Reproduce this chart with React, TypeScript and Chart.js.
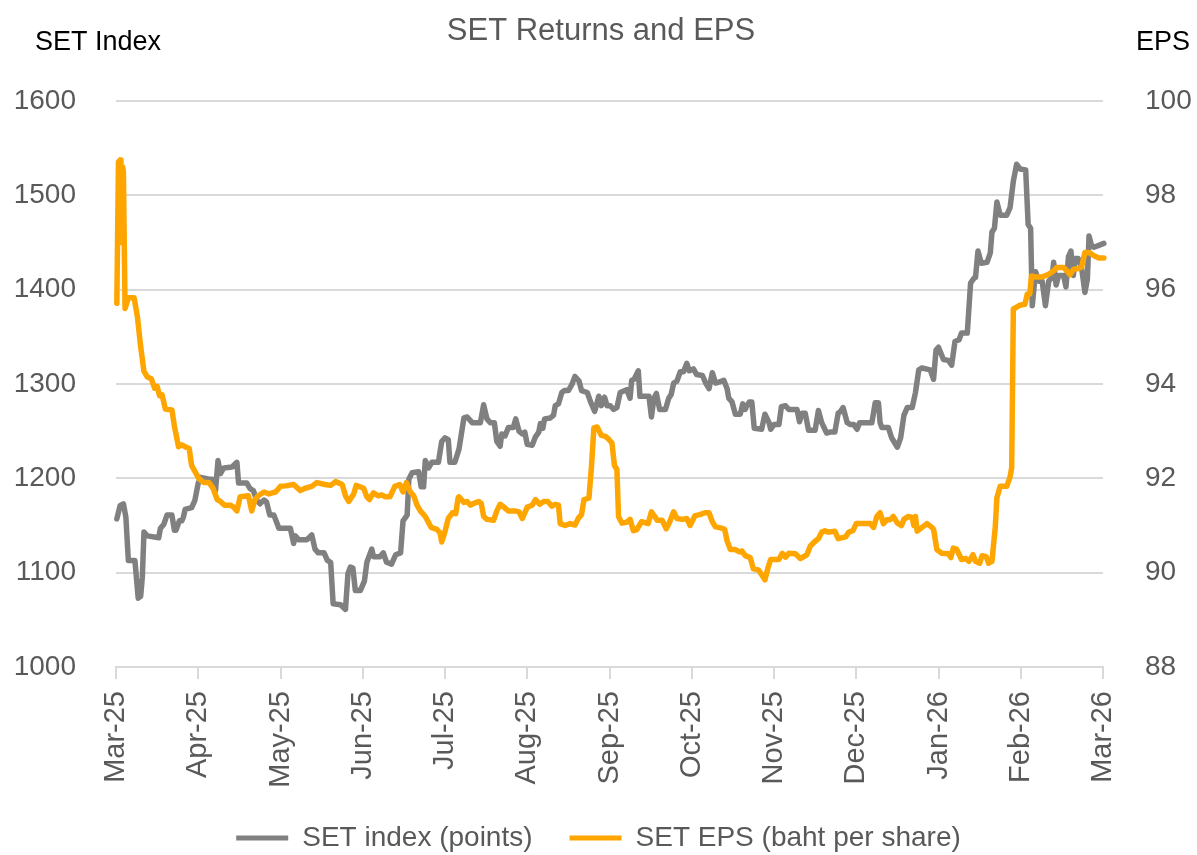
import React, { useEffect, useRef } from 'react';
import { Chart, registerables } from 'chart.js';

Chart.register(...registerables);

const CHART_TITLE = 'SET Returns and EPS';
const LEFT_AXIS_TITLE = 'SET Index';
const RIGHT_AXIS_TITLE = 'EPS';
const SERIES_NAMES = ['SET index (points)', 'SET EPS (baht per share)'];

const MONTH_LABELS = [
  'Mar-25', 'Apr-25', 'May-25', 'Jun-25', 'Jul-25', 'Aug-25', 'Sep-25',
  'Oct-25', 'Nov-25', 'Dec-25', 'Jan-26', 'Feb-26', 'Mar-26',
];

const INDEX_MIN = 1000;
const INDEX_MAX = 1600;
const INDEX_STEP = 100;
const EPS_MIN = 88;
const EPS_MAX = 100;
const EPS_STEP = 2;

// [months since Mar-25, SET index points]
const SET_INDEX: [number, number][] = [
  [0.01, 1157], [0.05, 1171], [0.09, 1173], [0.12, 1159], [0.15, 1113], [0.23, 1113],
  [0.27, 1073], [0.30, 1075], [0.32, 1095], [0.34, 1143], [0.38, 1139], [0.52, 1137],
  [0.54, 1147], [0.58, 1151], [0.62, 1161], [0.68, 1161], [0.71, 1145], [0.73, 1145],
  [0.77, 1155], [0.80, 1155], [0.82, 1159], [0.84, 1167], [0.92, 1169], [0.96, 1177],
  [1.00, 1195], [1.03, 1201], [1.13, 1199], [1.17, 1199], [1.21, 1187], [1.24, 1219],
  [1.27, 1205], [1.31, 1211], [1.41, 1212], [1.47, 1217], [1.49, 1195], [1.59, 1195],
  [1.63, 1189], [1.67, 1187], [1.71, 1177], [1.75, 1173], [1.80, 1177], [1.83, 1175],
  [1.87, 1161], [1.92, 1161], [1.98, 1147], [2.12, 1147], [2.16, 1131], [2.18, 1139],
  [2.22, 1135], [2.32, 1135], [2.38, 1140], [2.42, 1125], [2.46, 1121], [2.53, 1121],
  [2.57, 1113], [2.61, 1111], [2.64, 1067], [2.73, 1066], [2.79, 1061], [2.82, 1099],
  [2.85, 1106], [2.88, 1105], [2.91, 1081], [2.97, 1081], [3.02, 1091], [3.05, 1111],
  [3.11, 1125], [3.13, 1117], [3.21, 1117], [3.25, 1121], [3.29, 1111], [3.35, 1109],
  [3.40, 1119], [3.46, 1121], [3.49, 1155], [3.54, 1161], [3.56, 1199], [3.60, 1206],
  [3.68, 1207], [3.71, 1191], [3.74, 1191], [3.76, 1219], [3.80, 1211], [3.84, 1217],
  [3.92, 1217], [3.96, 1239], [4.00, 1243], [4.04, 1241], [4.06, 1217], [4.12, 1217],
  [4.17, 1231], [4.23, 1264], [4.27, 1265], [4.33, 1259], [4.43, 1259], [4.47, 1278],
  [4.51, 1263], [4.55, 1259], [4.60, 1259], [4.63, 1239], [4.67, 1234], [4.69, 1247],
  [4.73, 1245], [4.77, 1254], [4.83, 1254], [4.86, 1263], [4.90, 1250], [4.94, 1247],
  [4.97, 1249], [5.00, 1236], [5.06, 1235], [5.10, 1244], [5.14, 1249], [5.16, 1258],
  [5.19, 1253], [5.21, 1263], [5.28, 1264], [5.32, 1267], [5.34, 1277], [5.38, 1279],
  [5.42, 1291], [5.45, 1293], [5.50, 1293], [5.54, 1299], [5.58, 1308], [5.63, 1303],
  [5.66, 1293], [5.73, 1291], [5.77, 1281], [5.82, 1271], [5.87, 1287], [5.90, 1277],
  [5.94, 1286], [5.97, 1277], [6.01, 1277], [6.05, 1273], [6.09, 1275], [6.13, 1291],
  [6.21, 1294], [6.25, 1285], [6.27, 1304], [6.30, 1305], [6.35, 1314], [6.37, 1287],
  [6.48, 1287], [6.51, 1265], [6.54, 1285], [6.57, 1290], [6.61, 1273], [6.68, 1273],
  [6.72, 1285], [6.75, 1289], [6.78, 1301], [6.82, 1303], [6.86, 1313], [6.90, 1313],
  [6.94, 1322], [6.97, 1314], [7.02, 1316], [7.06, 1310], [7.13, 1309], [7.17, 1301],
  [7.21, 1295], [7.25, 1312], [7.29, 1301], [7.33, 1302], [7.39, 1304], [7.43, 1295],
  [7.45, 1285], [7.49, 1281], [7.53, 1268], [7.59, 1268], [7.62, 1279], [7.65, 1273],
  [7.67, 1277], [7.70, 1281], [7.73, 1281], [7.76, 1253], [7.85, 1252], [7.89, 1268],
  [7.94, 1259], [7.96, 1252], [8.00, 1257], [8.06, 1257], [8.09, 1276], [8.14, 1277],
  [8.18, 1273], [8.28, 1273], [8.31, 1260], [8.34, 1269], [8.38, 1269], [8.42, 1251],
  [8.50, 1251], [8.54, 1272], [8.58, 1259], [8.64, 1248], [8.68, 1249], [8.74, 1249],
  [8.78, 1269], [8.81, 1271], [8.84, 1275], [8.89, 1259], [8.93, 1257], [8.97, 1257],
  [9.01, 1252], [9.04, 1259], [9.19, 1259], [9.23, 1280], [9.27, 1280], [9.29, 1259],
  [9.31, 1254], [9.39, 1254], [9.43, 1243], [9.50, 1233], [9.54, 1243], [9.58, 1267],
  [9.62, 1275], [9.68, 1275], [9.72, 1291], [9.76, 1315], [9.80, 1317], [9.90, 1315],
  [9.94, 1305], [9.97, 1336], [10.00, 1339], [10.06, 1326], [10.12, 1325], [10.16, 1320],
  [10.20, 1345], [10.25, 1347], [10.28, 1354], [10.35, 1354], [10.39, 1407], [10.43, 1412],
  [10.45, 1413], [10.48, 1441], [10.52, 1428], [10.59, 1429], [10.63, 1439], [10.65, 1461],
  [10.68, 1465], [10.71, 1493], [10.75, 1479], [10.83, 1479], [10.87, 1487], [10.91, 1515],
  [10.95, 1533], [10.99, 1528], [11.06, 1527], [11.09, 1469], [11.12, 1465], [11.14, 1383],
  [11.18, 1419], [11.22, 1409], [11.26, 1409], [11.30, 1383], [11.34, 1409], [11.38, 1413],
  [11.40, 1429], [11.43, 1405], [11.46, 1415], [11.52, 1415], [11.55, 1403], [11.58, 1435],
  [11.61, 1441], [11.64, 1415], [11.66, 1433], [11.70, 1433], [11.74, 1423], [11.78, 1397],
  [11.81, 1411], [11.83, 1457], [11.86, 1447], [11.89, 1445], [11.95, 1447], [12.01, 1449],
  [12.05, 1447],
];

// [months since Mar-25, SET EPS baht per share]
const SET_EPS: [number, number][] = [
  [0.01, 95.71], [0.03, 98.71], [0.05, 98.75], [0.06, 97.0], [0.08, 98.6], [0.09, 98.5],
  [0.11, 95.6], [0.15, 95.83], [0.22, 95.83], [0.26, 95.43], [0.30, 94.79], [0.34, 94.27],
  [0.38, 94.15], [0.43, 94.11], [0.47, 93.91], [0.50, 93.95], [0.53, 93.75], [0.56, 93.77],
  [0.60, 93.47], [0.68, 93.45], [0.71, 93.11], [0.76, 92.67], [0.80, 92.71], [0.84, 92.67],
  [0.89, 92.63], [0.92, 92.27], [1.01, 91.99], [1.07, 91.91], [1.13, 91.91], [1.18, 91.79],
  [1.23, 91.55], [1.27, 91.51], [1.32, 91.43], [1.39, 91.43], [1.43, 91.39], [1.47, 91.31],
  [1.51, 91.61], [1.61, 91.63], [1.65, 91.31], [1.69, 91.55], [1.73, 91.63], [1.80, 91.71],
  [1.86, 91.67], [1.90, 91.69], [1.94, 91.71], [2.00, 91.83], [2.06, 91.84], [2.16, 91.87],
  [2.24, 91.74], [2.30, 91.79], [2.38, 91.83], [2.44, 91.91], [2.54, 91.87], [2.61, 91.85],
  [2.67, 91.93], [2.75, 91.87], [2.79, 91.63], [2.83, 91.51], [2.89, 91.67], [2.92, 91.85],
  [3.01, 91.79], [3.05, 91.61], [3.08, 91.55], [3.13, 91.69], [3.19, 91.63], [3.23, 91.65],
  [3.27, 91.61], [3.33, 91.61], [3.39, 91.83], [3.45, 91.87], [3.49, 91.71], [3.53, 91.91],
  [3.58, 91.71], [3.62, 91.63], [3.66, 91.43], [3.70, 91.31], [3.76, 91.19], [3.81, 91.03],
  [3.83, 90.96], [3.90, 90.92], [3.94, 90.84], [3.96, 90.65], [4.00, 90.87], [4.04, 91.15],
  [4.09, 91.27], [4.13, 91.25], [4.16, 91.59], [4.17, 91.61], [4.23, 91.49], [4.27, 91.51],
  [4.31, 91.43], [4.35, 91.47], [4.41, 91.51], [4.44, 91.47], [4.47, 91.19], [4.51, 91.13],
  [4.59, 91.11], [4.63, 91.31], [4.67, 91.45], [4.73, 91.37], [4.77, 91.31], [4.85, 91.31],
  [4.90, 91.29], [4.94, 91.15], [5.00, 91.39], [5.06, 91.43], [5.10, 91.55], [5.15, 91.45],
  [5.20, 91.51], [5.25, 91.51], [5.30, 91.41], [5.34, 91.45], [5.38, 91.43], [5.40, 91.04],
  [5.46, 91.0], [5.52, 91.04], [5.58, 91.01], [5.62, 91.15], [5.66, 91.23], [5.69, 91.55],
  [5.75, 91.58], [5.78, 92.23], [5.81, 93.07], [5.85, 93.09], [5.90, 92.91], [5.95, 92.89],
  [5.99, 92.83], [6.03, 92.75], [6.06, 92.27], [6.09, 92.19], [6.11, 91.19], [6.15, 91.05],
  [6.21, 91.07], [6.25, 91.13], [6.29, 90.89], [6.33, 90.91], [6.39, 91.08], [6.47, 91.04],
  [6.51, 91.29], [6.55, 91.19], [6.58, 91.11], [6.64, 91.11], [6.69, 90.93], [6.73, 91.07],
  [6.78, 91.29], [6.82, 91.15], [6.89, 91.13], [6.94, 91.15], [6.98, 91.0], [7.04, 91.21],
  [7.10, 91.23], [7.16, 91.27], [7.21, 91.27], [7.25, 91.08], [7.29, 90.97], [7.35, 90.95],
  [7.40, 90.92], [7.43, 90.67], [7.47, 90.49], [7.53, 90.49], [7.58, 90.44], [7.61, 90.46],
  [7.65, 90.36], [7.71, 90.32], [7.75, 90.08], [7.81, 90.06], [7.89, 89.85], [7.93, 90.12],
  [7.96, 90.28], [8.02, 90.28], [8.06, 90.28], [8.10, 90.41], [8.14, 90.33], [8.18, 90.41],
  [8.26, 90.40], [8.32, 90.30], [8.40, 90.38], [8.44, 90.56], [8.49, 90.65], [8.54, 90.72],
  [8.58, 90.86], [8.62, 90.89], [8.66, 90.86], [8.74, 90.88], [8.78, 90.72], [8.87, 90.76],
  [8.91, 90.86], [8.96, 90.89], [9.00, 91.04], [9.07, 91.04], [9.17, 91.04], [9.21, 90.96],
  [9.25, 91.19], [9.29, 91.27], [9.33, 91.04], [9.37, 91.12], [9.41, 91.12], [9.45, 91.19],
  [9.50, 91.05], [9.55, 91.0], [9.58, 91.13], [9.63, 91.19], [9.68, 91.17], [9.70, 91.0],
  [9.72, 91.19], [9.74, 90.88], [9.80, 90.96], [9.86, 91.04], [9.92, 90.96], [9.94, 90.92],
  [9.98, 90.49], [10.04, 90.41], [10.12, 90.40], [10.15, 90.32], [10.18, 90.52], [10.22, 90.50],
  [10.28, 90.28], [10.33, 90.30], [10.37, 90.24], [10.42, 90.38], [10.45, 90.24], [10.50, 90.20],
  [10.53, 90.36], [10.58, 90.34], [10.61, 90.20], [10.65, 90.24], [10.69, 90.96], [10.71, 91.59],
  [10.75, 91.83], [10.83, 91.83], [10.87, 92.03], [10.89, 92.23], [10.91, 95.59], [10.95, 95.63],
  [10.99, 95.67], [11.05, 95.69], [11.08, 95.91], [11.11, 95.91], [11.13, 96.29], [11.17, 96.27],
  [11.26, 96.27], [11.32, 96.31], [11.36, 96.35], [11.40, 96.40], [11.44, 96.47], [11.52, 96.47],
  [11.56, 96.40], [11.60, 96.32], [11.64, 96.43], [11.70, 96.45], [11.74, 96.48], [11.78, 96.79],
  [11.83, 96.79], [11.89, 96.72], [11.95, 96.67], [12.01, 96.67], [12.05, 96.79],
];

const FONT_FAMILY = '"Liberation Sans", Arial, Helvetica, sans-serif';
const TEXT_GRAY = '#595959';
const GRID_GRAY = '#d9d9d9';
const INDEX_COLOR = '#808080';
const EPS_COLOR = '#FFA500';

const headerTextPlugin = {
  id: 'headerText',
  afterDraw(chart: any) {
    const ctx = chart.ctx;
    ctx.save();
    ctx.textBaseline = 'middle';
    ctx.fillStyle = TEXT_GRAY;
    ctx.font = `31px ${FONT_FAMILY}`;
    ctx.textAlign = 'center';
    ctx.fillText(CHART_TITLE, 601, 31);
    ctx.fillStyle = '#000000';
    ctx.font = `27px ${FONT_FAMILY}`;
    ctx.textAlign = 'left';
    ctx.fillText(LEFT_AXIS_TITLE, 35, 43);
    ctx.textAlign = 'right';
    ctx.fillText(RIGHT_AXIS_TITLE, 1190, 43);
    ctx.restore();
  },
};

export default function App() {
  const canvasRef = useRef<HTMLCanvasElement | null>(null);

  useEffect(() => {
    if (!canvasRef.current) return;
    const chart = new Chart(canvasRef.current, {
      type: 'line',
      data: {
        datasets: [
          {
            label: SERIES_NAMES[0],
            data: SET_INDEX.map(([x, y]) => ({ x, y })),
            yAxisID: 'y',
            borderColor: INDEX_COLOR,
            backgroundColor: INDEX_COLOR,
            borderWidth: 5.5,
            pointRadius: 0,
            tension: 0,
            borderJoinStyle: 'round',
            borderCapStyle: 'round',
            clip: 10,
            order: 1,
          },
          {
            label: SERIES_NAMES[1],
            data: SET_EPS.map(([x, y]) => ({ x, y })),
            yAxisID: 'y1',
            borderColor: EPS_COLOR,
            backgroundColor: EPS_COLOR,
            borderWidth: 5.5,
            pointRadius: 0,
            tension: 0,
            borderJoinStyle: 'round',
            borderCapStyle: 'round',
            clip: 10,
            order: 0,
          },
        ],
      },
      options: {
        responsive: false,
        maintainAspectRatio: false,
        animation: false,
        layout: { padding: { top: 101, left: 0, right: 0, bottom: -7 } },
        font: { family: FONT_FAMILY },
        plugins: {
          title: { display: false },
          tooltip: { enabled: false },
          legend: {
            position: 'bottom',
            labels: {
              color: TEXT_GRAY,
              font: { size: 28, family: FONT_FAMILY },
              boxWidth: 52,
              boxHeight: 5,
              padding: 37,
              sort: (a: any, b: any) => a.datasetIndex - b.datasetIndex,
              generateLabels: (chart: any) => {
                const items = Chart.defaults.plugins.legend.labels.generateLabels(chart);
                return items.map((it: any) => ({
                  ...it,
                  fillStyle: it.strokeStyle,
                  lineWidth: 0,
                }));
              },
            },
          },
        },
        scales: {
          x: {
            type: 'linear',
            min: 0,
            max: MONTH_LABELS.length - 1,
            afterBuildTicks: (scale: any) => {
              scale.ticks = MONTH_LABELS.map((_, i) => ({ value: i }));
            },
            afterFit: (scale: any) => {
              scale.height = 120;
            },
            ticks: {
              autoSkip: false,
              maxRotation: 90,
              minRotation: 90,
              padding: 12,
              color: TEXT_GRAY,
              font: { size: 29, family: FONT_FAMILY },
              callback: (v: any) => MONTH_LABELS[Math.round(Number(v))] ?? '',
            },
            grid: {
              drawOnChartArea: false,
              drawTicks: true,
              tickLength: 12,
              color: GRID_GRAY,
              lineWidth: 2,
            },
            border: { display: true, color: GRID_GRAY, width: 2 },
          },
          y: {
            type: 'linear',
            position: 'left',
            min: INDEX_MIN,
            max: INDEX_MAX,
            afterFit: (scale: any) => {
              scale.width = 116;
            },
            ticks: {
              stepSize: INDEX_STEP,
              padding: 40,
              color: TEXT_GRAY,
              font: { size: 28, family: FONT_FAMILY },
              callback: (v: any) => String(v),
            },
            grid: { color: GRID_GRAY, lineWidth: 2, drawTicks: false },
            border: { display: false },
          },
          y1: {
            type: 'linear',
            position: 'right',
            min: EPS_MIN,
            max: EPS_MAX,
            afterFit: (scale: any) => {
              scale.width = 94;
            },
            ticks: {
              stepSize: EPS_STEP,
              padding: 42,
              color: TEXT_GRAY,
              font: { size: 28, family: FONT_FAMILY },
              callback: (v: any) => String(v),
            },
            grid: { drawOnChartArea: false, drawTicks: false },
            border: { display: false },
          },
        },
      },
      plugins: [headerTextPlugin],
    } as any);
    return () => chart.destroy();
  }, []);

  return (
    <div style={{ position: 'fixed', left: 0, top: 0, width: 1197, height: 855, background: '#ffffff' }}>
      <canvas ref={canvasRef} width={1197} height={855} style={{ width: 1197, height: 855, display: 'block' }} />
    </div>
  );
}
